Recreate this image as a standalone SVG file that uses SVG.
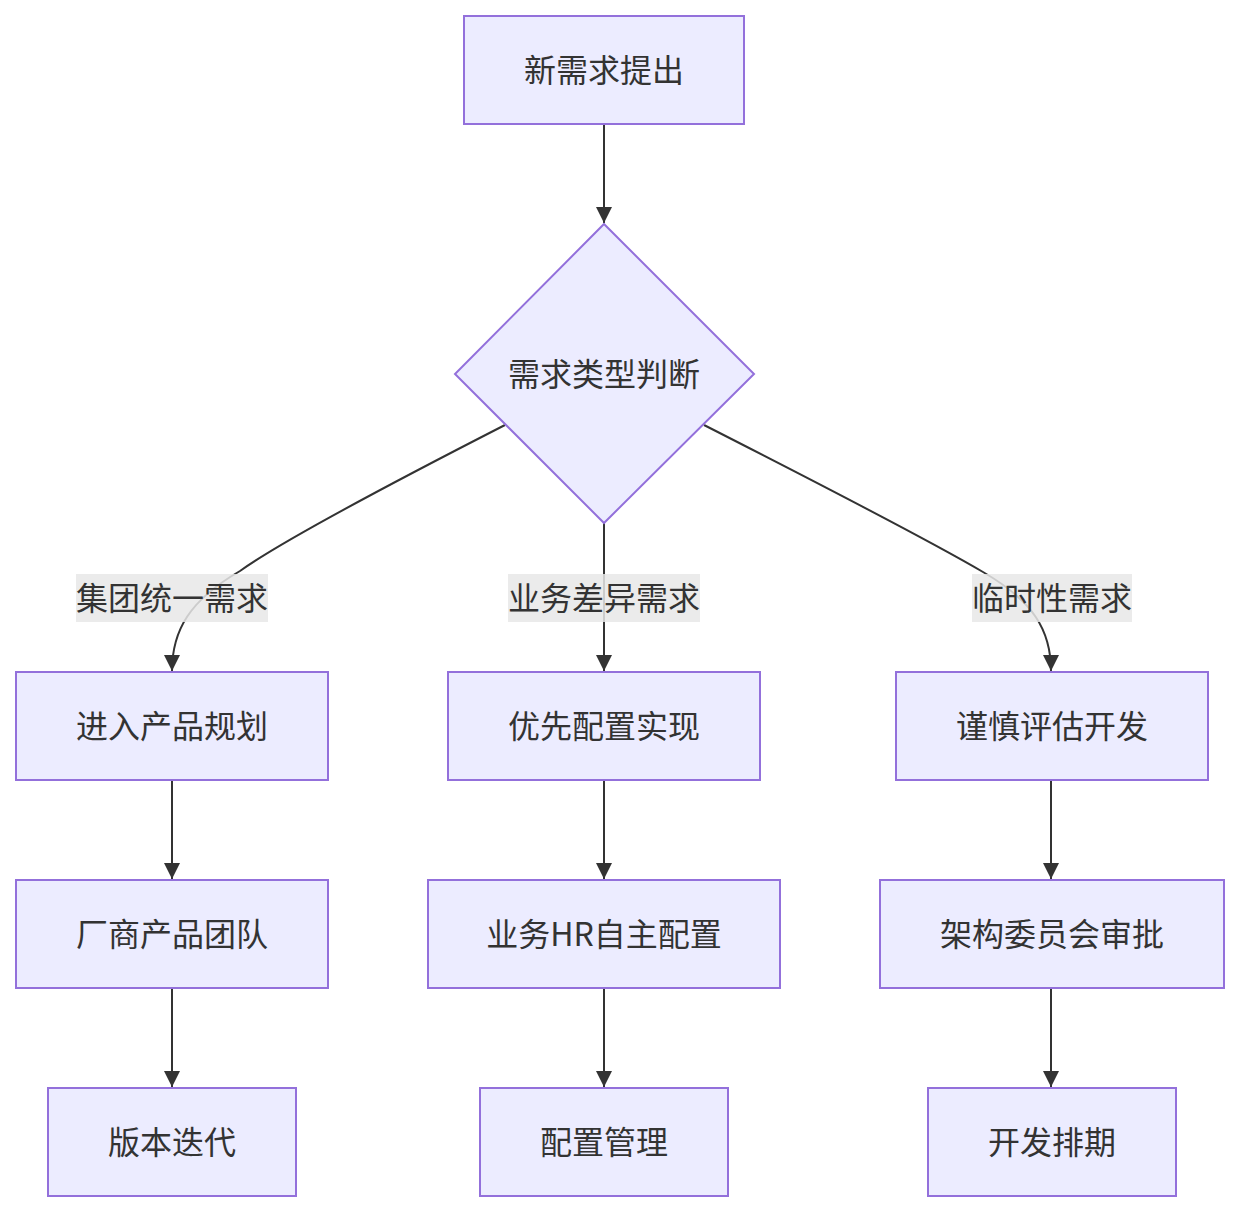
<svg xmlns="http://www.w3.org/2000/svg" width="1239" height="1212" viewBox="0 0 1239 1212">
<style>
.node rect,.node polygon{fill:#ECECFF;stroke:#9370DB;stroke-width:2}
.node text,.lbl text{font-family:"Noto Sans CJK SC","Noto Sans",sans-serif;font-size:32px;fill:#333;text-anchor:middle;dominant-baseline:central}
.edge{fill:none;stroke:#333;stroke-width:2;marker-end:url(#arr)}
.lbl rect{fill:#e8e8e8;opacity:0.85}
</style>
<defs>
<marker id="arr" viewBox="0 0 16 16" refX="16" refY="8" markerWidth="16" markerHeight="16" markerUnits="userSpaceOnUse" orient="auto">
<path d="M0,0 L16,8 L0,16 z" fill="#333"/>
</marker>
</defs>
<rect width="1239" height="1212" fill="#fff"/>
<g id="connectors">
<path class="edge" d="M604,124 L604,223"/>
<path class="edge" d="M505,425 Q290,535 240,571 C190,600 172,630 172,671"/>
<path class="edge" d="M604,523 L604,671"/>
<path class="edge" d="M704,425 Q920,535 983,572 C1033,601 1051,630 1051,671"/>
<path class="edge" d="M172,780 L172,879"/>
<path class="edge" d="M172,988 L172,1087"/>
<path class="edge" d="M604,780 L604,879"/>
<path class="edge" d="M604,988 L604,1087"/>
<path class="edge" d="M1051,780 L1051,879"/>
<path class="edge" d="M1051,988 L1051,1087"/>
</g>
<g id="edge-labels">
<g class="lbl"><rect x="76" y="574" width="192" height="48"/><text x="172" y="596">集团统一需求</text></g>
<g class="lbl"><rect x="508" y="574" width="192" height="48"/><text x="604" y="596">业务差异需求</text></g>
<g class="lbl"><rect x="972" y="574" width="160" height="48"/><text x="1052" y="596">临时性需求</text></g>
</g>
<g id="A" class="node"><rect x="464" y="16" width="280" height="108"/><text x="604" y="68">新需求提出</text></g>
<g id="B" class="node"><polygon points="604,224 754,374 604,523 455,374"/><text x="604" y="372">需求类型判断</text></g>
<g id="C" class="node"><rect x="16" y="672" width="312" height="108"/><text x="172" y="724">进入产品规划</text></g>
<g id="D" class="node"><rect x="448" y="672" width="312" height="108"/><text x="604" y="724">优先配置实现</text></g>
<g id="E" class="node"><rect x="896" y="672" width="312" height="108"/><text x="1052" y="724">谨慎评估开发</text></g>
<g id="F" class="node"><rect x="16" y="880" width="312" height="108"/><text x="172" y="932">厂商产品团队</text></g>
<g id="G" class="node"><rect x="428" y="880" width="352" height="108"/><text x="604" y="932">业务HR自主配置</text></g>
<g id="H" class="node"><rect x="880" y="880" width="344" height="108"/><text x="1052" y="932">架构委员会审批</text></g>
<g id="I" class="node"><rect x="48" y="1088" width="248" height="108"/><text x="172" y="1140">版本迭代</text></g>
<g id="J" class="node"><rect x="480" y="1088" width="248" height="108"/><text x="604" y="1140">配置管理</text></g>
<g id="K" class="node"><rect x="928" y="1088" width="248" height="108"/><text x="1052" y="1140">开发排期</text></g>
</svg>
